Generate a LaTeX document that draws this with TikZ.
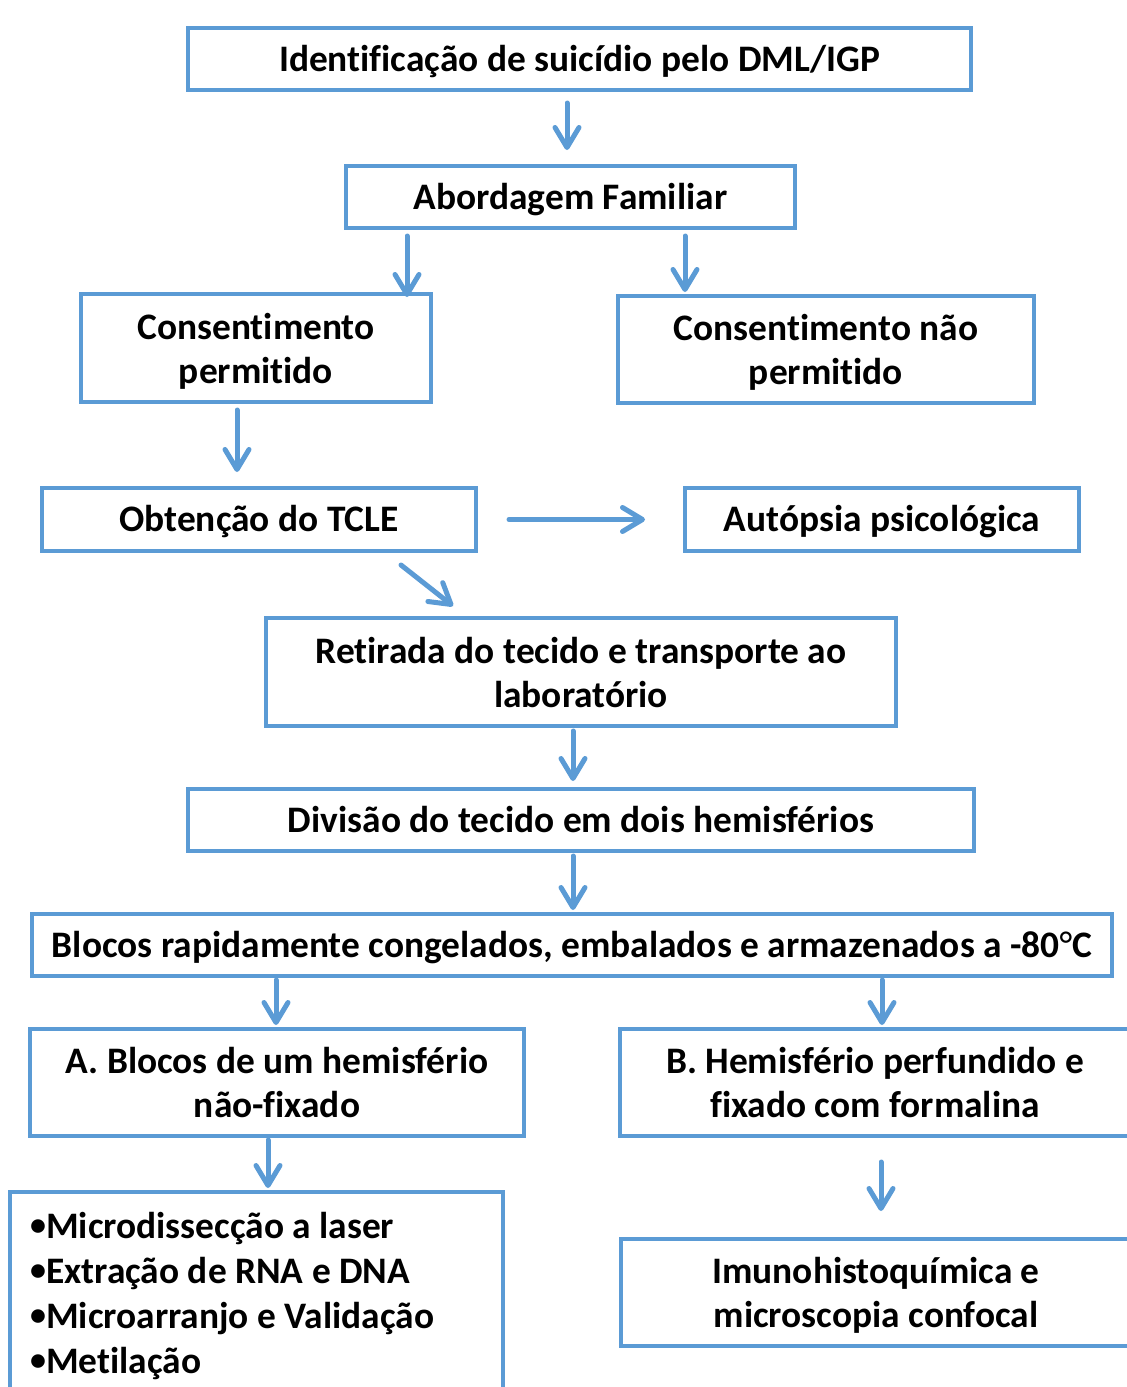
\documentclass[tikz,border=0pt]{standalone}
\usepackage{fontspec}
\setmainfont{Carlito}[Ligatures=NoCommon]
\usetikzlibrary{arrows.meta,positioning,calc}
\definecolor{boxblue}{RGB}{91,155,213}
\newcommand{\listbullet}{\raisebox{3pt}{\fontsize{32}{45}\selectfont•}}

\begin{document}
\begin{tikzpicture}[x=1pt, y=-1pt, >={Straight Barb[length=20pt,width=24pt,round]},
   block/.style={draw=boxblue, line width=4pt, rectangle, inner sep=0pt, outer sep=0pt,
      align=center, text height=32pt, text depth=8pt, font=\bfseries\fontsize{37.4}{44}\selectfont},
   block2/.style={block, text height=78pt},
   arr/.style={->, draw=boxblue, line width=5pt, line cap=round}]

    \useasboundingbox (0,0) rectangle (1127,1387);
    \clip (0,0) rectangle (1127,1387);

    % Place nodes
    \node [block, minimum width=783pt, minimum height=62pt] (ident) at (579.5,59) {Identificação de suicídio pelo DML/IGP};
    \node [block, minimum width=449pt, minimum height=62pt] (abord) at (570.5,197) {Abordagem Familiar};
    \node [block2, minimum width=350pt, minimum height=108pt] (cperm) at (256,348) {Consentimento\\permitido};
    \node [block2, minimum width=416pt, minimum height=107pt] (cnao) at (826,349.5) {Consentimento não\\permitido};
    \node [block, minimum width=434pt, minimum height=63pt] (tcle) at (259,519.5) {Obtenção do TCLE};
    \node [block, minimum width=394pt, minimum height=63pt] (autop) at (882,519.5) {Autópsia psicológica};
    \node [block2, minimum width=630pt, minimum height=108pt] (retir) at (581,672) {Retirada do tecido e transporte ao\\laboratório};
    \node [block, minimum width=786pt, minimum height=62pt] (divis) at (581,820) {Divisão do tecido em dois hemisférios};
    \node [block, minimum width=1080pt, minimum height=62pt] (blocos) at (572,945) {Blocos rapidamente congelados, embalados e armazenados a -80{\mdseries °}C};
    \node [block2, minimum width=494pt, minimum height=107pt] (hemA) at (277,1082.5) {A. Blocos de um hemisfério\\não-fixado};
    \node [block2, minimum width=510pt, minimum height=107pt] (hemB) at (875,1082.5) {B. Hemisfério perfundido e\\fixado com formalina};
    \node [block, minimum width=493pt, minimum height=228pt] (listA) at (256.5,1306) {};
    \node [block2, minimum width=510pt, minimum height=107pt] (imuno) at (876,1292.5) {Imunohistoquímica e\\microscopia confocal};
    \node [align=left, anchor=north west, inner sep=0pt, font=\bfseries\fontsize{37.4}{45}\selectfont] (listtxt) at (30,1212)
        {\listbullet Microdissecção a laser\\\listbullet Extração de RNA e DNA\\\listbullet Microarranjo e Validação\\\listbullet Metilação};

    % Draw edges
    \draw [arr, shorten <=13pt, shorten >=16pt] (ident.south -| 567,0) -- (abord.north -| 567,0);
    \draw [arr, shorten <=8pt, shorten >=-3pt] (abord.south -| 407,0) -- (cperm.north -| 407,0);
    \draw [arr, shorten <=8pt, shorten >=4pt] (abord.south -| 685,0) -- (cnao.north -| 685,0);
    \draw [arr, shorten <=8pt, shorten >=16pt] (cperm.south -| 237,0) -- (tcle.north -| 237,0);
    \draw [arr, shorten <=33pt, shorten >=40pt] (tcle.east) -- (autop.west);
    \draw [arr] ($(tcle.south)+(142,14)$) -- ($(retir.north)+(-128,-12)$);
    \draw [arr, shorten <=5pt, shorten >=8pt] (retir.south -| 573,0) -- (divis.north -| 573,0);
    \draw [arr, shorten <=5pt, shorten >=4pt] (divis.south -| 573,0) -- (blocos.north -| 573,0);
    \draw [arr, shorten <=4pt, shorten >=4pt] (blocos.south -| 276,0) -- (hemA.north -| 276,0);
    \draw [arr, shorten <=4pt, shorten >=4pt] (blocos.south -| 882,0) -- (hemB.north -| 882,0);
    \draw [arr, shorten <=4pt, shorten >=4pt] (hemA.south -| 268,0) -- (listA.north -| 268,0);
    \draw [arr, shorten <=26pt, shorten >=28pt] (hemB.south -| 881,0) -- (imuno.north -| 881,0);
\end{tikzpicture}
\end{document}
